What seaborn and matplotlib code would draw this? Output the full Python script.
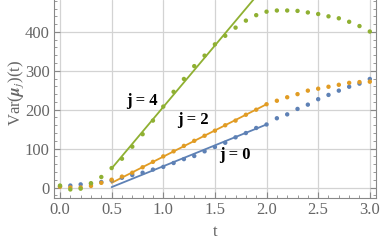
import pandas as pd
import seaborn as sns
import matplotlib.pyplot as plt
from matplotlib.ticker import MultipleLocator

# Data
t = [0.0, 0.1, 0.2, 0.3, 0.4, 0.5, 0.6, 0.7, 0.8, 0.9, 1.0,
     1.1, 1.2, 1.3, 1.4, 1.5, 1.6, 1.7, 1.8, 1.9, 2.0,
     2.1, 2.2, 2.3, 2.4, 2.5, 2.6, 2.7, 2.8, 2.9, 3.0]
var_j0 = [3, 5, 8, 10, 14, 18, 25, 32, 38, 46, 53,
          63, 73, 81, 93, 104, 115, 129, 140, 153, 162,
          178, 188, 202, 213, 227, 238, 249, 259, 267, 279]
var_j2 = [2, 0, 0, 4, 12, 20, 28, 38, 52, 66, 80,
          93, 107, 120, 133, 146, 160, 172, 187, 200, 214,
          223, 232, 240, 249, 254, 259, 264, 269, 271, 272]
var_j4 = [5, -5, -3, 11, 27, 50, 74, 105, 137, 172, 208,
          246, 279, 312, 339, 368, 390, 411, 429, 443, 452,
          455, 455, 454, 450, 446, 440, 435, 426, 415, 401]

# linear fits drawn between t = 0.5 and t = 2.0
fit_t = [0.5, 2.0]
fit_j0 = [1, 162]
fit_j2 = [12, 214]
fit_j4 = [49, 523]

series = ['j = 0', 'j = 2', 'j = 4']
colors = ['#5E81B5', '#E19C24', '#8FB032']
label_t = [1.69, 1.29, 0.79]
label_v = [83, 173, 222]

############ PLOT ############

sns.set_style('ticks')
plt.rcParams['font.family'] = ['Liberation Serif', 'DejaVu Serif']
plt.rcParams['mathtext.fontset'] = 'stix'

fig = plt.figure(figsize=(3.82, 2.44), dpi=100)
ax = fig.add_axes([0.1414, 0.1885, 0.8429, 0.8115])

dots = pd.DataFrame({'t': t * 3,
                     'var': var_j0 + var_j2 + var_j4,
                     'j': [series[0]] * len(t) + [series[1]] * len(t) + [series[2]] * len(t)})
fits = pd.DataFrame({'t': fit_t * 3,
                     'var': fit_j0 + fit_j2 + fit_j4,
                     'j': [series[0]] * 2 + [series[1]] * 2 + [series[2]] * 2})
palette = dict(zip(series, colors))

sns.lineplot(data=fits, x='t', y='var', hue='j', palette=palette, ax=ax,
             linewidth=1.3, legend=False, zorder=3)
sns.scatterplot(data=dots, x='t', y='var', hue='j', palette=palette, ax=ax,
                s=10, linewidth=0, legend=False, zorder=4)

for name, lt, lv in zip(series, label_t, label_v):
    ax.text(lt, lv, name, fontsize=12, fontweight='bold', ha='center', va='center', color='black')

ax.set_xlim(-0.058, 3.06)
ax.set_ylim(-27, 482)
ax.xaxis.set_major_locator(MultipleLocator(0.5))
ax.xaxis.set_minor_locator(MultipleLocator(0.1))
ax.yaxis.set_major_locator(MultipleLocator(100))
ax.yaxis.set_minor_locator(MultipleLocator(20))
ax.xaxis.set_major_formatter(plt.FuncFormatter(lambda v, p: f'{v:.1f}'))

ax.grid(True, which='major', color='#d3d3d3', linewidth=0.9)
ax.set_axisbelow(True)
ax.tick_params(which='both', direction='in', colors='#888888', labelcolor='#666666',
               labelsize=12, right=True, top=False)
ax.tick_params(which='major', length=4, pad=3)
ax.tick_params(which='minor', length=2)
for side in ['left', 'right', 'bottom']:
    ax.spines[side].set_color('#888888')
ax.spines['top'].set_visible(False)

ax.set_xlabel('t', fontsize=12, color='#666666', labelpad=4)
ax.set_ylabel(r'Var($\boldsymbol{\mu}_j$)(t)', fontsize=12, color='#666666')
ax.yaxis.set_label_coords(-0.088, 0.53)

plt.savefig('out.png', dpi=100)
plt.close()
